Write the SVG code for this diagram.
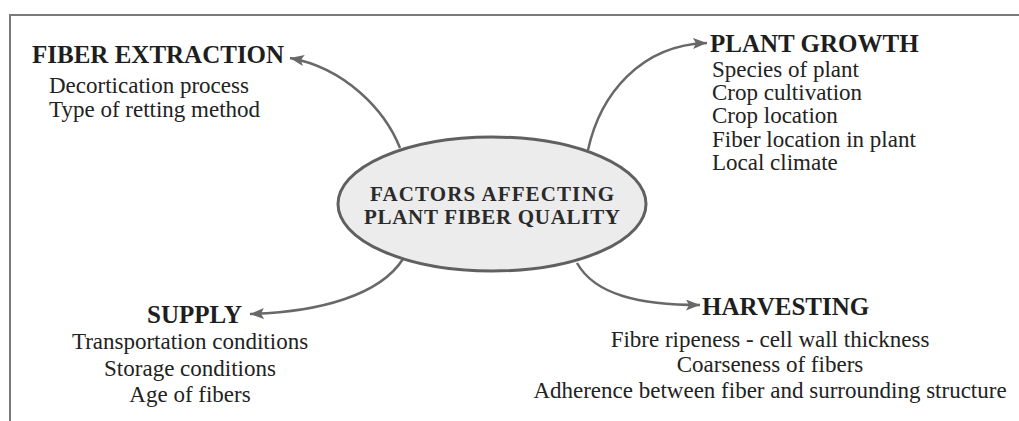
<svg xmlns="http://www.w3.org/2000/svg" width="1019" height="421" viewBox="0 0 1019 421">
<defs>
<style>
.frame{stroke:#7a7a7a;stroke-width:2;fill:none}
.conn{stroke:#686868;stroke-width:2.5;fill:none}
.title{font-family:"Liberation Serif","Times New Roman",serif;font-weight:bold;font-size:25px;fill:#1e1e1e}
.body{font-family:"Liberation Serif","Times New Roman",serif;font-size:23px;fill:#222}
.center{font-family:"Liberation Serif","Times New Roman",serif;font-weight:bold;font-size:21px;fill:#2a2a2a}
</style>
<marker id="arr" markerUnits="userSpaceOnUse" markerWidth="15" markerHeight="12" refX="14" refY="5.5" orient="auto">
<path d="M0,0 L14,5.5 L0,11 L3,5.5 z" fill="#686868"/>
</marker>
</defs>
<rect width="1019" height="421" fill="#fff"/>
<path class="frame" d="M10,421 L10,15 L1019,15"/>
<g id="connectors">
<path class="conn" d="M400,148 C385,110 345,68 290,58" marker-end="url(#arr)"/>
<path class="conn" d="M588,150 C600,95 640,45 707,43" marker-end="url(#arr)"/>
<path class="conn" d="M403,259 C380,295 320,312 250,314" marker-end="url(#arr)"/>
<path class="conn" d="M577,263 C595,295 640,305 700,305" marker-end="url(#arr)"/>
</g>
<g id="center">
<ellipse cx="492" cy="204" rx="154" ry="67" fill="#ececec" stroke="#606060" stroke-width="3"/>
<text class="center" x="492" y="201" text-anchor="middle" textLength="244" lengthAdjust="spacing">FACTORS AFFECTING</text>
<text class="center" x="492" y="224" text-anchor="middle" textLength="256" lengthAdjust="spacing">PLANT FIBER QUALITY</text>
</g>
<g id="fiber-extraction">
<text class="title" x="32" y="63">FIBER EXTRACTION</text>
<text class="body" x="49" y="93">Decortication process</text>
<text class="body" x="49" y="117">Type of retting method</text>
</g>
<g id="plant-growth">
<text class="title" x="710" y="52">PLANT GROWTH</text>
<text class="body" x="712" y="77">Species of plant</text>
<text class="body" x="712" y="100">Crop cultivation</text>
<text class="body" x="712" y="123">Crop location</text>
<text class="body" x="712" y="147">Fiber location in plant</text>
<text class="body" x="712" y="170">Local climate</text>
</g>
<g id="supply">
<text class="title" x="147" y="323">SUPPLY</text>
<text class="body" x="190" y="349" text-anchor="middle">Transportation conditions</text>
<text class="body" x="190" y="376" text-anchor="middle">Storage conditions</text>
<text class="body" x="190" y="402" text-anchor="middle">Age of fibers</text>
</g>
<g id="harvesting">
<text class="title" x="702" y="315">HARVESTING</text>
<text class="body" x="770" y="347" text-anchor="middle">Fibre ripeness - cell wall thickness</text>
<text class="body" x="770" y="372" text-anchor="middle">Coarseness of fibers</text>
<text class="body" x="770" y="398" text-anchor="middle">Adherence between fiber and surrounding structure</text>
</g>
</svg>
